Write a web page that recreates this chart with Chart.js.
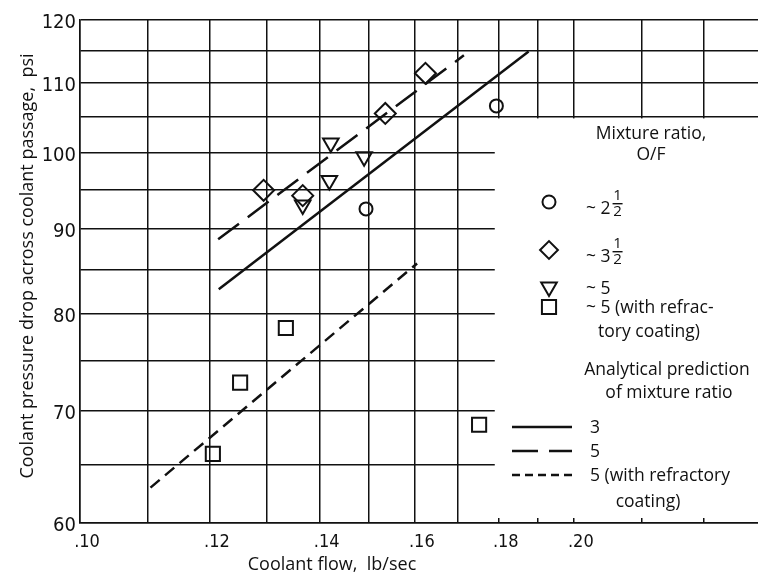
<!DOCTYPE html>
<html>
<head>
<meta charset="utf-8">
<script src="https://cdn.jsdelivr.net/npm/chart.js@4.4.1/dist/chart.umd.min.js"></script>
<style>
  html, body { margin: 0; padding: 0; background: #fff; }
  #wrap { width: 758px; height: 576px; }
</style>
</head>
<body>
<div id="wrap"><canvas id="flowChart" width="758" height="576"></canvas></div>
<script>
// ── Data (log-log) ──
const circleFlow   = [0.1494, 0.1794];
const circleDrop   = [92.5, 106.6];
const diamondFlow  = [0.1294, 0.1367, 0.1535, 0.1624];
const diamondDrop  = [94.9, 94.2, 105.5, 111.5];
const triangleFlow = [0.1367, 0.1419, 0.1422, 0.1490];
const triangleDrop = [93.0, 96.2, 101.3, 99.4];
const squareFlow   = [0.1205, 0.1252, 0.1335, 0.1751];
const squareDrop   = [66.0, 72.8, 78.5, 68.7];

// analytical predictions
const pred3Flow       = [0.1215, 0.1877];
const pred3Drop       = [82.8, 114.9];
const pred5Flow       = [0.1214, 0.1714];
const pred5Drop       = [88.7, 114.3];
const pred5CoatFlow   = [0.1104, 0.1605];
const pred5CoatDrop   = [63.0, 85.8];

// grid / tick labels
const flowGrid   = [0.10, 0.11, 0.12, 0.13, 0.14, 0.15, 0.16, 0.17, 0.18, 0.19, 0.20, 0.22, 0.24];
const flowLabels = ['.10', '', '.12', '', '.14', '', '.16', '', '.18', '', '.20', '', ''];
const dropGrid   = [60, 65, 70, 75, 80, 85, 90, 95, 100, 105, 110, 115, 120];
const dropLabels = ['60', '', '70', '', '80', '', '90', '', '100', '', '110', '', '120'];

const INK = '#111';
const TEXT_FONT = "'Open Sans', 'DejaVu Sans', sans-serif";
const NUM_FONT = "'Liberation Sans Narrow', 'DejaVu Sans Condensed', sans-serif";

const pts = (xs, ys) => xs.map((x, i) => ({ x: x, y: ys[i] }));

function marker(label, xs, ys, style, radius, rotation) {
  return {
    label, data: pts(xs, ys), showLine: false,
    pointStyle: style, pointRadius: radius, pointRotation: rotation || 0,
    pointBorderColor: INK, pointBackgroundColor: 'rgba(0,0,0,0)', pointBorderWidth: 2
  };
}
function predLine(label, xs, ys, dash) {
  return {
    label, data: pts(xs, ys), showLine: true, borderColor: INK,
    borderWidth: 2.5, borderDash: dash, pointRadius: 0, fill: false
  };
}

const datasets = [
  predLine('3', pred3Flow, pred3Drop, []),
  predLine('5', pred5Flow, pred5Drop, [26, 11]),
  predLine('5 (with refractory coating)', pred5CoatFlow, pred5CoatDrop, [12, 7]),
  marker('~2 1/2', circleFlow, circleDrop, 'circle', 6.5),
  marker('~3 1/2', diamondFlow, diamondDrop, 'rectRot', 10.5),
  marker('~5', triangleFlow, triangleDrop, 'triangle', 9, 180),
  marker('~5 (with refractory coating)', squareFlow, squareDrop, 'rect', 10)
];

// ── legend panel + axis titles ──
function txt(ctx, s, x, y, align, size) {
  ctx.font = '500 ' + (size || 17.5) + 'px ' + TEXT_FONT;
  ctx.textAlign = align || 'left';
  ctx.textBaseline = 'middle';
  ctx.fillText(s, x, y);
}
function mixed(ctx, whole, x, y) {
  // "~ 2" followed by a stacked one-half
  txt(ctx, whole, x, y + 7);
  const w = ctx.measureText(whole).width + 2;
  ctx.font = '500 15px ' + TEXT_FONT;
  ctx.textAlign = 'center';
  ctx.fillText('1', x + w + 5, y - 6);
  ctx.fillText('2', x + w + 5, y + 10);
  ctx.fillRect(x + w, y + 1, 10, 1.4);
}

const legendPanel = {
  id: 'legendPanel',
  beforeDatasetsDraw(chart) {
    const { ctx, chartArea, scales: { x, y } } = chart;
    const left = x.getPixelForValue(0.18) - 4;
    const top = y.getPixelForValue(105) + 1.5;
    ctx.save();
    ctx.fillStyle = '#fff';
    ctx.fillRect(left, top, chartArea.right - left + 2, chartArea.bottom - 5 - top);
    ctx.restore();
  },
  afterDraw(chart) {
    const { ctx } = chart;
    const H = Chart.helpers;
    ctx.save();
    ctx.fillStyle = INK;
    ctx.strokeStyle = INK;

    txt(ctx, 'Mixture ratio,', 651, 134, 'center');
    txt(ctx, 'O/F', 651, 155, 'center');

    const ds = chart.data.datasets;
    const sym = [[3, 202], [4, 250], [5, 287], [6, 307]];
    ctx.lineWidth = 2;
    ctx.fillStyle = 'rgba(0,0,0,0)';
    sym.forEach(([i, py]) => {
      H.drawPoint(ctx, { pointStyle: ds[i].pointStyle, radius: ds[i].pointRadius * (i === 4 ? 0.85 : 1),
        rotation: ds[i].pointRotation, borderWidth: 2 }, 549, py);
    });
    ctx.fillStyle = INK;
    mixed(ctx, '~ 2', 586, 202);
    mixed(ctx, '~ 3', 586, 250);
    txt(ctx, '~ 5', 586, 289);
    txt(ctx, '~ 5 (with refrac-', 586, 308);
    txt(ctx, 'tory coating)', 649, 332, 'center');

    txt(ctx, 'Analytical prediction', 667, 370, 'center');
    txt(ctx, 'of mixture ratio', 669, 393, 'center');

    const lineRows = [[0, 427, '3'], [1, 451, '5'], [2, 475, '5 (with refractory']];
    lineRows.forEach(([i, py, s]) => {
      ctx.save();
      ctx.lineWidth = 2.5;
      ctx.setLineDash(i === 2 ? [8, 5] : ds[i].borderDash);
      ctx.beginPath();
      ctx.moveTo(512, py);
      ctx.lineTo(572, py);
      ctx.stroke();
      ctx.restore();
      txt(ctx, s, 590, py + 1);
    });
    txt(ctx, 'coating)', 648, 502, 'center');

    // axis titles
    txt(ctx, 'Coolant flow,  lb/sec', 332, 565, 'center', 18);
    ctx.save();
    ctx.translate(28, 266);
    ctx.rotate(-Math.PI / 2);
    txt(ctx, 'Coolant pressure drop across coolant passage,  psi', 0, 0, 'center', 18);
    ctx.restore();
    ctx.restore();
  }
};

new Chart(document.getElementById('flowChart'), {
  type: 'scatter',
  data: { datasets },
  plugins: [legendPanel],
  options: {
    responsive: false,
    animation: false,
    events: [],
    layout: { autoPadding: false, padding: { top: 20, right: 0, left: 0, bottom: 0 } },
    plugins: { legend: { display: false }, tooltip: { enabled: false } },
    scales: {
      x: {
        type: 'logarithmic', min: 0.10, max: 0.259,
        afterBuildTicks: s => { s.ticks = flowGrid.map(v => ({ value: v })); },
        afterFit: s => { s.height = 53; s.paddingLeft = 0; s.paddingRight = 0; },
        ticks: {
          autoSkip: false, maxRotation: 0, padding: 9, labelOffset: 7, color: INK,
          font: { family: NUM_FONT, size: 18 },
          callback: (v, i) => flowLabels[i]
        },
        grid: { color: INK, lineWidth: 1.5, drawTicks: false },
        border: { color: INK, width: 1.5 }
      },
      y: {
        type: 'logarithmic', min: 60, max: 120,
        afterBuildTicks: s => { s.ticks = dropGrid.map(v => ({ value: v })); },
        afterFit: s => { s.width = 80; s.paddingTop = 0; s.paddingBottom = 0; },
        ticks: {
          autoSkip: false, padding: 4, labelOffset: 3, color: INK,
          font: { family: NUM_FONT, size: 20 },
          callback: (v, i) => dropLabels[i]
        },
        grid: { color: INK, lineWidth: 1.5, drawTicks: false },
        border: { color: INK, width: 1.5 }
      }
    }
  }
});
</script>
</body>
</html>
